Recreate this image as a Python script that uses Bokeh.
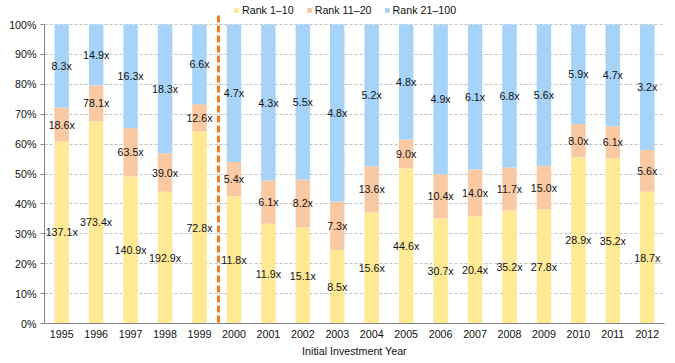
from bokeh.plotting import figure
from bokeh.models import (ColumnDataSource, FactorRange, Range1d, FixedTicker,
                          NumeralTickFormatter, Arrow, Legend, LegendItem)
from bokeh.core.properties import value
from bokeh.embed import file_html
from bokeh.resources import INLINE

years = ["1995", "1996", "1997", "1998", "1999", "2000", "2001", "2002", "2003",
         "2004", "2005", "2006", "2007", "2008", "2009", "2010", "2011", "2012"]
# share of total (percent) per rank group
share_1_10 = [60.9, 67.6, 49.2, 44.1, 64.2, 42.6, 33.4, 32.1, 24.7,
              37.1, 51.9, 35.1, 35.9, 37.8, 38.1, 55.6, 55.3, 44.1]
share_11_20 = [11.3, 12.0, 16.1, 12.8, 9.1, 11.4, 14.4, 16.1, 16.1,
               15.5, 9.6, 14.8, 15.6, 14.4, 14.7, 11.1, 10.7, 13.9]
share_21_100 = [round(100 - a - b, 1) for a, b in zip(share_1_10, share_11_20)]
# multiples shown as data labels
mult_1_10 = [137.1, 373.4, 140.9, 192.9, 72.8, 11.8, 11.9, 15.1, 8.5,
             15.6, 44.6, 30.7, 20.4, 35.2, 27.8, 28.9, 35.2, 18.7]
mult_11_20 = [18.6, 78.1, 63.5, 39.0, 12.6, 5.4, 6.1, 8.2, 7.3,
              13.6, 9.0, 10.4, 14.0, 11.7, 15.0, 8.0, 6.1, 5.6]
mult_21_100 = [8.3, 14.9, 16.3, 18.3, 6.6, 4.7, 4.3, 5.5, 4.8,
               5.2, 4.8, 4.9, 6.1, 6.8, 5.6, 5.9, 4.7, 3.2]
series_names = ["Rank 1\u201310", "Rank 11\u201320", "Rank 21\u2013100"]
y_ticks = [0, 0.1, 0.2, 0.3, 0.4, 0.5, 0.6, 0.7, 0.8, 0.9, 1.0]
divider_after = "1999"
x_title = "Initial Investment Year"

colors = ["#FFE995", "#F9C9A3", "#A6D3F7"]
FONT = "Liberation Sans"
FS = "10.7px"
TXT = "#111111"

data = dict(years=years,
            r1=[v / 100 for v in share_1_10],
            r2=[v / 100 for v in share_11_20],
            r3=[v / 100 for v in share_21_100])
src = ColumnDataSource(data)

# frame reaches the top of the figure so the legend sits inside it;
# 100% lies 24px below the top (299px per 100%)
y_top = 1 + 24 / 299
p = figure(x_range=FactorRange(*years, range_padding=0), y_range=Range1d(0, y_top),
           width=675, height=363, output_backend="svg", toolbar_location=None,
           min_border_left=44, min_border_right=11, min_border_top=0, min_border_bottom=40)
p.outline_line_color = None
p.background_fill_color = "white"

rs = p.vbar_stack(["r1", "r2", "r3"], x="years", width=0.42, color=colors,
                  line_color=None, source=src)

# data labels at segment centres
lx, ly, lt = [], [], []
for i, yr in enumerate(years):
    a = share_1_10[i] / 100
    b = share_11_20[i] / 100
    c = share_21_100[i] / 100
    lx += [yr, yr, yr]
    ly += [a / 2, a + b / 2, a + b + c / 2]
    lt += [f"{mult_1_10[i]:.1f}x", f"{mult_11_20[i]:.1f}x", f"{mult_21_100[i]:.1f}x"]
lsrc = ColumnDataSource(dict(x=lx, y=ly, t=lt))
p.text(x="x", y="y", text="t", source=lsrc, text_align="center", text_baseline="middle",
       text_font=value(FONT), text_font_size=FS, text_color=TXT)

# divider line
xdiv = years.index(divider_after) + 1.05
p.add_layout(Arrow(end=None, x_start=xdiv, x_end=xdiv, y_start=-0.097, y_end=1.033,
                   line_color="#F07A1E", line_width=3, line_dash="7 3"))

# axes
p.yaxis.ticker = FixedTicker(ticks=y_ticks)
p.yaxis.bounds = (0, 1)
p.yaxis.formatter = NumeralTickFormatter(format="0%")
p.yaxis.axis_line_color = "#868686"
p.yaxis.major_tick_line_color = "#868686"
p.yaxis.major_tick_out = 4
p.yaxis.major_tick_in = 0
p.yaxis.minor_tick_line_color = None
p.yaxis.major_label_standoff = 4
p.xaxis.axis_line_color = "#868686"
p.xaxis.major_tick_line_color = None
p.xaxis.major_tick_out = 0
p.xaxis.major_label_standoff = 6
p.xaxis.axis_label = x_title
p.xaxis.axis_label_standoff = 4
for ax in (p.xaxis, p.yaxis):
    ax.major_label_text_font = FONT
    ax.major_label_text_font_size = FS
    ax.major_label_text_color = TXT
p.xaxis.axis_label_text_font = FONT
p.xaxis.axis_label_text_font_size = FS
p.xaxis.axis_label_text_font_style = "normal"
p.xaxis.axis_label_text_color = TXT

p.xgrid.grid_line_color = None
p.ygrid.grid_line_color = "#C4C4C4"
p.ygrid.grid_line_dash = "3 2"
p.ygrid.grid_line_width = 1

legend = Legend(items=[LegendItem(label=n, renderers=[r]) for n, r in zip(series_names, rs)],
                orientation="horizontal", location=(189, 307),
                glyph_width=6, glyph_height=6, label_height=12, label_standoff=3,
                spacing=12, padding=0, margin=0,
                border_line_color=None, background_fill_alpha=0,
                label_text_font=FONT, label_text_font_size=FS, label_text_color=TXT)
p.add_layout(legend, "center")

open("out.html", "w").write(file_html(p, INLINE))
